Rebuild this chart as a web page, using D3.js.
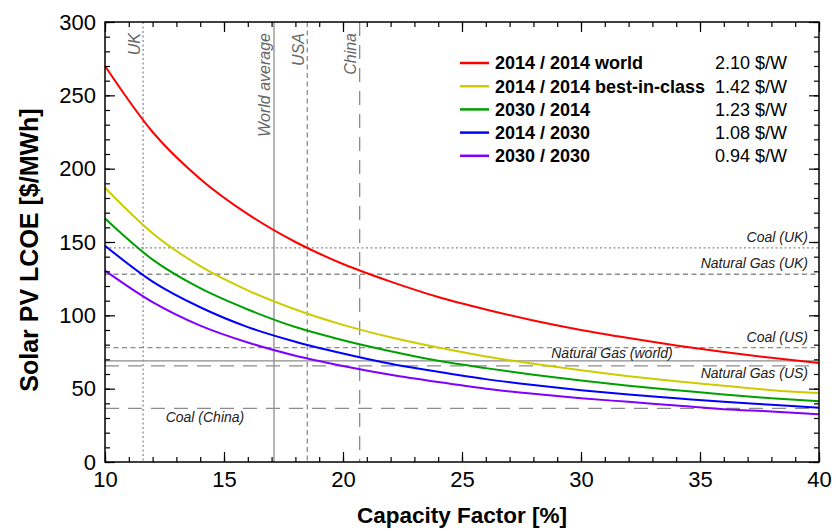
<!DOCTYPE html>
<html>
<head>
<meta charset="utf-8">
<title>Solar PV LCOE</title>
<script src="https://cdn.jsdelivr.net/npm/d3@7"></script>
<style>
body { margin: 0; background: #fff; }
svg { font-family: "Liberation Sans", Arial, Helvetica, sans-serif; }
</style>
</head>
<body>
<div id="chart"></div>
<script>
const capacityFactor = [10, 12, 14, 16, 18, 20, 22, 24, 26, 28, 30, 32, 34, 36, 38, 40];

const seriesNames = ["2014 / 2014 world", "2014 / 2014 best-in-class", "2030 / 2014", "2014 / 2030", "2030 / 2030"];
const seriesCosts = ["2.10 $/W", "1.42 $/W", "1.23 $/W", "1.08 $/W", "0.94 $/W"];

// LCOE [$/MWh]
const lcoeWorld2014  = [270, 225, 193, 169, 150, 135, 123, 112.5, 104, 96.5, 90, 84.5, 79.5, 75, 71, 67.5];
const lcoeBest2014   = [187, 156, 133.5, 117, 104, 93.5, 85, 78, 72, 67, 62.5, 58.5, 55, 52, 49, 47];
const lcoe2030on2014 = [166, 138, 118.5, 104, 92, 83, 75.5, 69, 64, 59.5, 55.5, 52, 49, 46, 43.5, 41.5];
const lcoe2014on2030 = [147.5, 123, 105.5, 92, 82, 74, 67, 61.5, 56.5, 52.5, 49, 46, 43.5, 41, 39, 37];
const lcoe2030on2030 = [130.5, 109, 93, 81.5, 72.5, 65.5, 59.5, 54.5, 50, 46.5, 43.5, 41, 38.5, 36, 34.5, 32.5];

// reference capacity factors
const regionNames = ["UK", "World average", "USA", "China"];
const regionCF    = [11.6, 17.1, 18.5, 20.7];

// competing generation costs [$/MWh]
const sourceNames = ["Coal (UK)", "Natural Gas (UK)", "Coal (US)", "Natural Gas (world)", "Natural Gas (US)", "Coal (China)"];
const sourceCost  = [146, 128, 78, 69, 65.5, 36.5];

const xTicks = [10, 15, 20, 25, 30, 35, 40];
const yTicks = [0, 50, 100, 150, 200, 250, 300];

// ----------------------------------------------------------------

const W = 836, H = 531;
const margin = {top: 22, right: 17, bottom: 69, left: 105};
const iw = W - margin.left - margin.right,
      ih = H - margin.top - margin.bottom;

const colors = ["#ff0000", "#cccc00", "#00a000", "#0000ff", "#8000ff"];
const grey = "#8c8c8c";
const dotted = "2,2.5", dashed = "5,3.5", longdash = "14,9";
const regionDash = [dotted, null, dashed, longdash];
const sourceDash = [dotted, dashed, dashed, null, longdash, longdash];

const svg = d3.select("#chart").append("svg")
    .attr("width", W)
    .attr("height", H);

const g = svg.append("g")
    .attr("transform", `translate(${margin.left},${margin.top})`);

const x = d3.scaleLinear().domain([10, 40]).range([0, iw]);
const y = d3.scaleLinear().domain([0, 300]).range([ih, 0]);

// reference lines
g.append("g").selectAll("line")
  .data(regionCF)
  .join("line")
    .attr("x1", d => x(d)).attr("x2", d => x(d))
    .attr("y1", 0).attr("y2", ih)
    .attr("stroke", grey)
    .attr("stroke-width", 1.3)
    .attr("stroke-dasharray", (d, i) => regionDash[i]);

g.append("g").selectAll("line")
  .data(sourceCost)
  .join("line")
    .attr("x1", 0).attr("x2", iw)
    .attr("y1", d => y(d)).attr("y2", d => y(d))
    .attr("stroke", grey)
    .attr("stroke-width", 1.3)
    .attr("stroke-dasharray", (d, i) => sourceDash[i]);

// region labels, vertical, hanging from the top
g.append("g").selectAll("text")
  .data(regionNames)
  .join("text")
    .attr("transform", (d, i) => `translate(${x(regionCF[i]) - 3.5},11) rotate(-90)`)
    .attr("text-anchor", "end")
    .attr("font-size", 16)
    .attr("font-style", "italic")
    .attr("fill", "#666")
    .text(d => d);

// source labels: [x anchor, dy from line, anchor]
const srcPos = [
  [iw - 11, -6, "end"],
  [iw - 11, -6, "end"],
  [iw - 11, -6, "end"],
  [x(31.3), -3, "middle"],
  [iw - 11, 12, "end"],
  [x(14.2), 13.5, "middle"]
];
g.append("g").selectAll("text")
  .data(sourceNames)
  .join("text")
    .attr("x", (d, i) => srcPos[i][0])
    .attr("y", (d, i) => y(sourceCost[i]) + srcPos[i][1])
    .attr("text-anchor", (d, i) => srcPos[i][2])
    .attr("font-size", 14)
    .attr("font-style", "italic")
    .attr("fill", "#222")
    .text(d => d);

// curves
const series = [lcoeWorld2014, lcoeBest2014, lcoe2030on2014, lcoe2014on2030, lcoe2030on2030];
const line = d3.line()
    .x((d, i) => x(capacityFactor[i]))
    .y(d => y(d))
    .curve(d3.curveMonotoneX);

g.append("g").selectAll("path")
  .data(series)
  .join("path")
    .attr("d", line)
    .attr("fill", "none")
    .attr("stroke", (d, i) => colors[i])
    .attr("stroke-width", 2);

// axes, ticks pointing inwards on all four sides
function ticks(axis, values, size, labels) {
  return axis.tickValues(values).tickSize(size)
    .tickFormat(labels ? d3.format("d") : "");
}
const minorX = d3.range(10, 41, 1), minorY = d3.range(0, 301, 10);

const axes = [
  [d3.axisBottom, x, `translate(0,${ih})`, xTicks, minorX, true],
  [d3.axisTop, x, null, xTicks, minorX, false],
  [d3.axisLeft, y, null, yTicks, minorY, true],
  [d3.axisRight, y, `translate(${iw},0)`, yTicks, minorY, false]
];
axes.forEach(([mk, sc, tr, major, minor, lab]) => {
  const gm = g.append("g").attr("transform", tr)
      .call(ticks(mk(sc), minor, -5, false));
  gm.select(".domain").remove();
  const gM = g.append("g").attr("transform", tr)
      .call(ticks(mk(sc), major, -10, lab).tickPadding(lab ? 9 : 0));
  gM.select(".domain").remove();
  gM.selectAll("text")
      .attr("font-size", 22)
      .attr("font-family", null)
      .attr("fill", "#000");
});
g.selectAll(".tick line").attr("stroke", "#000").attr("stroke-width", 1.2);

g.append("rect")
    .attr("width", iw).attr("height", ih)
    .attr("fill", "none")
    .attr("stroke", "#000")
    .attr("stroke-width", 1.5);

// axis titles
svg.append("text")
    .attr("x", margin.left + iw / 2)
    .attr("y", 523)
    .attr("text-anchor", "middle")
    .attr("font-size", 22.5)
    .attr("font-weight", "bold")
    .text("Capacity Factor [%]");

svg.append("text")
    .attr("transform", `translate(38,250) rotate(-90)`)
    .attr("text-anchor", "middle")
    .attr("font-size", 25)
    .attr("font-weight", "bold")
    .text("Solar PV LCOE [$/MWh]");

// legend
const legend = svg.append("g").selectAll("g")
  .data(seriesNames)
  .join("g")
    .attr("transform", (d, i) => `translate(460,${63 + i * 23.2})`);

legend.append("line")
    .attr("x2", 29)
    .attr("stroke", (d, i) => colors[i])
    .attr("stroke-width", 2.5);

legend.append("text")
    .attr("x", 35)
    .attr("dy", "0.35em")
    .attr("font-size", 18)
    .attr("font-weight", "bold")
    .text(d => d);

legend.append("text")
    .attr("x", 327)
    .attr("dy", "0.35em")
    .attr("text-anchor", "end")
    .attr("font-size", 18)
    .text((d, i) => seriesCosts[i]);
</script>
</body>
</html>
